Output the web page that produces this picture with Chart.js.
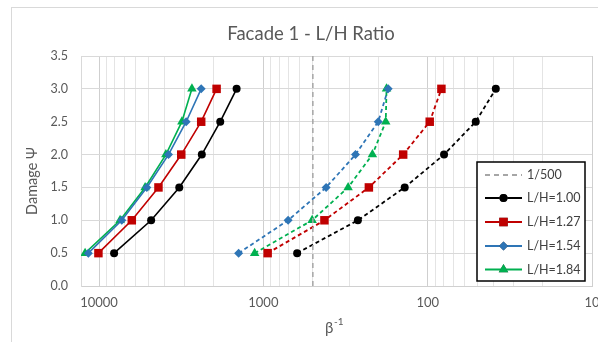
<!DOCTYPE html>
<html>
<head>
<meta charset="utf-8">
<script src="https://cdn.jsdelivr.net/npm/chart.js@4.4.1/dist/chart.umd.min.js"></script>
<style>
  html, body { margin: 0; padding: 0; background: #fff; overflow: hidden; }
  #frame { position: absolute; left: 11px; top: 7px; width: 700px; height: 400px; border: 1px solid #d9d9d9; }
  #wrap { position: absolute; left: 0; top: 0; width: 598px; height: 342px; }
</style>
</head>
<body>
<div id="frame"></div>
<div id="wrap"><canvas id="c" width="598" height="342"></canvas></div>
<script>
// Damage levels (y) shared by every curve
const damage = [0.5, 1.0, 1.5, 2.0, 2.5, 3.0];

// β⁻¹ at each damage level — first group (solid curves, shown in legend)
const lh100 = [8100, 4820, 3250, 2370, 1830, 1455];
const lh127 = [10090, 6320, 4350, 3160, 2390, 1926];
const lh154 = [11620, 7275, 5120, 3780, 2950, 2390];
const lh184 = [12160, 7450, 5245, 3920, 3133, 2722];

// β⁻¹ at each damage level — second group (dashed curves)
const lh100b = [623, 266, 138, 79.5, 51, 38.5];
const lh127b = [942, 425, 228, 141, 97.2, 82.5];
const lh154b = [1415, 707, 415, 275, 200, 174];
const lh184b = [1130, 505, 305, 217, 180, 178];

// Reference drift limit 1/500
const refLimit = 500;
const refSpan = [0, 3.5];

const seriesNames = ['L/H=1.00', 'L/H=1.27', 'L/H=1.54', 'L/H=1.84'];
const xTickLabels = ['10', '100', '1000', '10000'];

const colors = ['#000000', '#c00000', '#2e75b6', '#00b050'];
const shapes = ['circle', 'rect', 'rectRot', 'triangle'];
const radii = [4, 6, 4.5, 5.5];

const pts = vals => vals.map((v, i) => ({ x: v, y: damage[i] }));

const solid = [lh100, lh127, lh154, lh184];
const dashed = [lh100b, lh127b, lh154b, lh184b];

const datasets = [{
  label: '1/500',
  data: refSpan.map(y => ({ x: refLimit, y })),
  borderColor: '#a6a6a6',
  borderWidth: 1.5,
  borderDash: [5, 4],
  pointRadius: 0,
  legendShow: true
}];
solid.forEach((vals, i) => datasets.push({
  label: seriesNames[i],
  data: pts(vals),
  borderColor: colors[i],
  backgroundColor: colors[i],
  borderWidth: 1.6,
  pointStyle: shapes[i],
  pointRadius: radii[i],
  pointBorderWidth: 0,
  legendShow: true
}));
dashed.forEach((vals, i) => datasets.push({
  label: seriesNames[i] + ' (b)',
  data: pts(vals),
  borderColor: colors[i],
  backgroundColor: colors[i],
  borderWidth: 1.8,
  borderDash: [4, 3],
  pointStyle: shapes[i],
  pointRadius: radii[i],
  pointBorderWidth: 0,
  legendShow: false
}));

const FONT = 'Lato, "Open Sans", sans-serif';
const TEXT = '#595959';

// Titles and the boxed legend drawn inside the plot
const decorations = {
  id: 'decorations',
  afterDraw(chart) {
    const ctx = chart.ctx;
    ctx.save();
    // Chart title
    ctx.fillStyle = TEXT;
    ctx.font = '18.5px ' + FONT;
    ctx.textAlign = 'center';
    ctx.textBaseline = 'middle';
    ctx.fillText('Facade 1 - L/H Ratio', 311, 34);

    // Y axis title
    ctx.save();
    ctx.translate(32, 181);
    ctx.rotate(-Math.PI / 2);
    ctx.font = '14.5px ' + FONT;
    ctx.fillText('Damage Ψ', 0, 0);
    ctx.restore();

    // X axis title with superscript
    ctx.textAlign = 'left';
    ctx.font = '15px ' + FONT;
    const bw = ctx.measureText('β').width;
    ctx.font = '10px ' + FONT;
    const sw = ctx.measureText('-1').width;
    const x0 = 334 - (bw + sw) / 2;
    ctx.font = '15px ' + FONT;
    ctx.fillText('β', x0, 328);
    ctx.font = '10px ' + FONT;
    ctx.fillText('-1', x0 + bw + 0.5, 322);

    // Legend box
    const lx = 477, ly = 162, lw = 108, lh = 119;
    ctx.fillStyle = '#ffffff';
    ctx.fillRect(lx, ly, lw, lh);
    ctx.strokeStyle = '#000000';
    ctx.lineWidth = 1.5;
    ctx.strokeRect(lx, ly, lw, lh);

    const shown = chart.data.datasets.filter(d => d.legendShow);
    const rows = [175, 198, 222, 246, 269.5];
    shown.forEach((ds, i) => {
      const y = rows[i];
      ctx.save();
      ctx.strokeStyle = ds.borderColor;
      ctx.lineWidth = ds.borderWidth + 0.4;
      ctx.setLineDash(ds.borderDash || []);
      ctx.beginPath();
      ctx.moveTo(485, y);
      ctx.lineTo(522, y);
      ctx.stroke();
      ctx.restore();
      if (ds.pointRadius > 0) {
        Chart.helpers.drawPoint(ctx, {
          pointStyle: ds.pointStyle,
          radius: ds.pointRadius,
          rotation: 0,
          borderWidth: 0
        }, 503.5, y);
        ctx.fillStyle = ds.backgroundColor;
        ctx.fill();
      }
      ctx.fillStyle = '#404040';
      ctx.font = '12.5px ' + FONT;
      ctx.textAlign = 'left';
      ctx.textBaseline = 'middle';
      ctx.fillText(ds.label, 527, y);
    });
    ctx.restore();
  }
};

const isDecade = v => Math.abs(Math.log10(v) - Math.round(Math.log10(v))) < 1e-9;

new Chart(document.getElementById('c'), {
  type: 'line',
  data: { datasets },
  options: {
    responsive: false,
    animation: false,
    layout: { padding: { top: 56, right: 6, left: 0, bottom: 0 } },
    plugins: {
      legend: { display: false },
      title: { display: false },
      tooltip: { enabled: false }
    },
    elements: { line: { tension: 0 } },
    scales: {
      x: {
        type: 'logarithmic',
        reverse: true,
        min: 10,
        max: 12880,
        afterBuildTicks(scale) {
          const t = [];
          for (let p = 1; p <= 4; p++) {
            for (let m = 1; m <= 9; m++) {
              const v = m * Math.pow(10, p);
              if (v <= 10000) t.push({ value: v });
            }
          }
          scale.ticks = t;
        },
        afterFit(scale) { scale.height = 56; },
        ticks: {
          autoSkip: false,
          maxRotation: 0,
          padding: 9,
          color: TEXT,
          font: { family: FONT, size: 13 },
          callback(v) {
            if (!isDecade(v)) return '';
            const s = String(Math.round(v));
            return xTickLabels.includes(s) ? s : '';
          }
        },
        grid: {
          drawTicks: false,
          color: c => (c.tick && isDecade(c.tick.value)) ? '#cfcfcf' : '#e4e4e4',
          lineWidth: 1
        },
        border: { color: '#d0d0d0' }
      },
      y: {
        min: 0,
        max: 3.5,
        afterFit(scale) { scale.width = 81; },
        ticks: {
          stepSize: 0.5,
          padding: 13,
          color: TEXT,
          font: { family: FONT, size: 12.5 },
          callback: v => Number(v).toFixed(1)
        },
        grid: { drawTicks: false, color: '#d9d9d9' },
        border: { color: '#d9d9d9' }
      }
    }
  },
  plugins: [decorations]
});
</script>
</body>
</html>
